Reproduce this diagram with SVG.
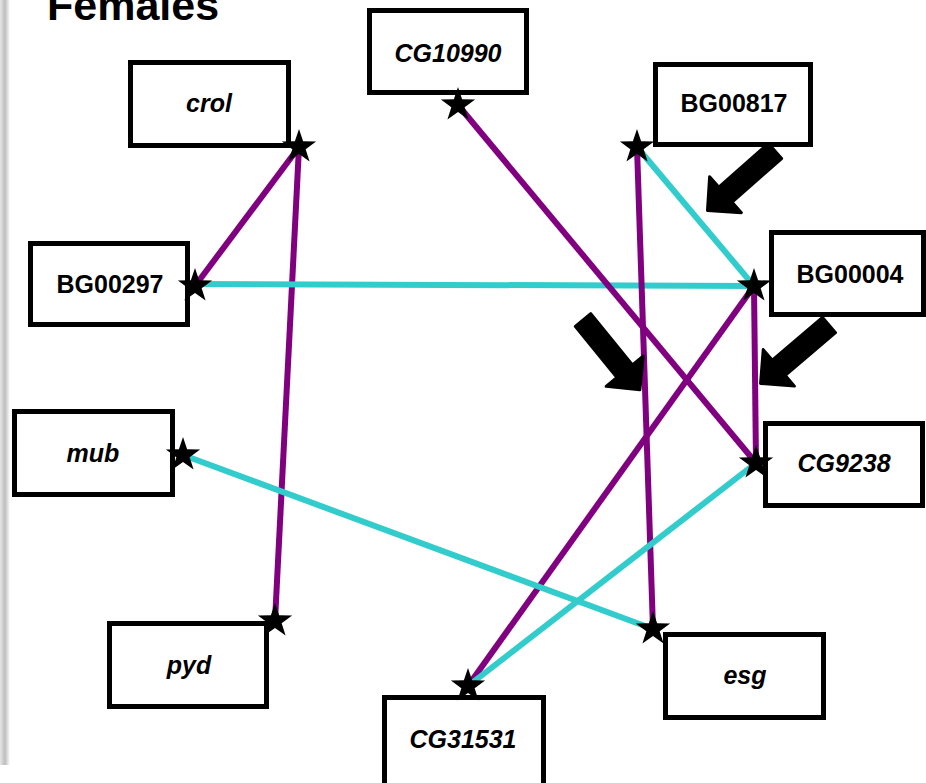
<svg xmlns="http://www.w3.org/2000/svg" xmlns:xlink="http://www.w3.org/1999/xlink" width="926" height="783" viewBox="0 0 926 783">
<style>
.box{fill:#fff;stroke:#000;stroke-width:5}
.lbl{font-family:"Liberation Sans",Arial,sans-serif;font-weight:bold;font-size:25px;text-anchor:middle;fill:#000}
.it{font-style:italic}
.p{stroke:#800080;stroke-width:6;fill:none}
.c{stroke:#33CCCC;stroke-width:6;fill:none}
.arr{fill:#000;stroke:#000;stroke-width:3;stroke-linejoin:round}
</style>
<defs>
<linearGradient id="sh" x1="0" y1="0" x2="1" y2="0">
<stop offset="0" stop-color="#e6e6e6"/>
<stop offset="0.5" stop-color="#bdbdbd"/>
<stop offset="1" stop-color="#ffffff"/>
</linearGradient>
<path id="star" d="M0,-18 L4.11,-5.66 L17.12,-5.56 L6.66,2.16 L10.58,14.56 L0,7 L-10.58,14.56 L-6.66,2.16 L-17.12,-5.56 L-4.11,-5.66 Z" fill="#000"/>
<path id="arrow" class="arr" d="M0,-10 L66,-10 L66,-24 L90,0 L66,24 L66,10 L0,10 Z"/>
</defs>
<rect width="926" height="783" fill="#fff"/>
<rect x="0" y="0" width="10" height="765" fill="url(#sh)"/>
<text x="47" y="20" font-family="Liberation Sans,Arial,sans-serif" font-weight="bold" font-size="43">Females</text>

<g id="connectors">
<line class="p" x1="299" y1="147" x2="195" y2="286"/>
<line class="p" x1="299" y1="147" x2="275" y2="621"/>
<line class="c" x1="195" y1="284" x2="754" y2="286"/>
<line class="p" x1="458" y1="105" x2="756" y2="463"/>
<line class="p" x1="637" y1="147" x2="653" y2="629"/>
<line class="c" x1="637" y1="147" x2="754" y2="286"/>
<line class="p" x1="754" y1="286" x2="468" y2="686"/>
<line class="p" x1="754" y1="286" x2="756" y2="463"/>
<line class="c" x1="756" y1="463" x2="468" y2="686"/>
<line class="c" x1="183" y1="455" x2="653" y2="629"/>
</g>

<g id="crol"><rect class="box" x="130.5" y="62.5" width="158" height="83"/><text class="lbl it" x="209" y="112">crol</text></g>
<g id="CG10990"><rect class="box" x="369.5" y="10.5" width="157" height="82"/><text class="lbl it" x="448" y="62">CG10990</text></g>
<g id="BG00817"><rect class="box" x="655.5" y="64.5" width="155" height="80"/><text class="lbl" x="734" y="112">BG00817</text></g>
<g id="BG00004"><rect class="box" x="771.5" y="232.5" width="152" height="82"/><text class="lbl" x="850" y="283">BG00004</text></g>
<g id="BG00297"><rect class="box" x="30.5" y="243.5" width="157" height="81"/><text class="lbl" x="110" y="293">BG00297</text></g>
<g id="mub"><rect class="box" x="14.5" y="411.5" width="158" height="83"/><text class="lbl it" x="93" y="462">mub</text></g>
<g id="pyd"><rect class="box" x="109.5" y="623.5" width="157" height="83"/><text class="lbl it" x="189" y="674">pyd</text></g>
<g id="CG31531"><rect class="box" x="384.5" y="697.5" width="159" height="90"/><text class="lbl it" x="463" y="748">CG31531</text></g>
<g id="esg"><rect class="box" x="665.5" y="634.5" width="158" height="83"/><text class="lbl it" x="745" y="684">esg</text></g>
<g id="CG9238"><rect class="box" x="765.5" y="423.5" width="157" height="82"/><text class="lbl it" x="844" y="472">CG9238</text></g>

<g id="stars">
<use xlink:href="#star" x="299" y="147"/>
<use xlink:href="#star" x="195" y="286"/>
<use xlink:href="#star" x="458" y="105"/>
<use xlink:href="#star" x="637" y="147"/>
<use xlink:href="#star" x="754" y="286"/>
<use xlink:href="#star" x="756" y="463"/>
<use xlink:href="#star" x="183" y="455"/>
<use xlink:href="#star" x="275" y="621"/>
<use xlink:href="#star" x="653" y="629"/>
<use xlink:href="#star" x="468" y="686"/>
</g>

<g id="arrows">
<use xlink:href="#arrow" transform="translate(775,151) rotate(138.6)"/>
<use xlink:href="#arrow" transform="translate(829,325) rotate(139.5)"/>
<use xlink:href="#arrow" transform="translate(583,320) rotate(50.8)"/>
</g>
</svg>
